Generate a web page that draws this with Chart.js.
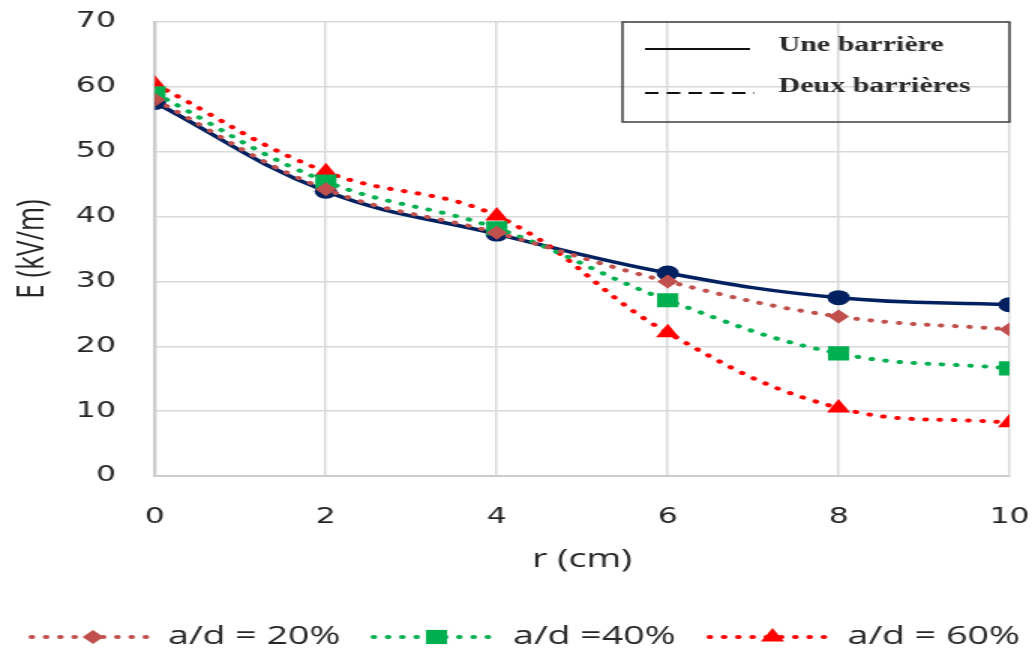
<!DOCTYPE html>
<html lang="fr">
  <head>
    <meta charset="UTF-8" />
    <title>E (kV/m) en fonction de r</title>
    <script src="https://cdn.jsdelivr.net/npm/chart.js@4.4.1/dist/chart.umd.min.js"></script>
    <style>
      html, body { margin: 0; padding: 0; background: #fff; overflow: hidden; }
      /* the original picture is stretched horizontally, so is this one */
      #wrap { width: 690px; height: 653px; transform: scaleX(1.5); transform-origin: 0 0; }
    </style>
  </head>
  <body>
    <div id="wrap"><canvas id="myChart" width="690" height="653"></canvas></div>
    <script>
      const rValues = [0, 2, 4, 6, 8, 10];
      const eUne = [57.6, 43.9, 37.3, 31.3, 27.5, 26.4];
      const e20 = [58.0, 44.2, 37.5, 30.0, 24.6, 22.6];
      const e40 = [59.0, 45.4, 38.2, 27.1, 18.9, 16.6];
      const e60 = [60.4, 46.9, 40.1, 22.1, 10.5, 8.2];
      const yTicks = [0, 10, 20, 30, 40, 50, 60, 70];
      const insetLabels = ["Une barrière", "Deux barrières"];

      const textColor = "#262626";
      const sans = "'Open Sans', 'Noto Sans', sans-serif";
      const tickFont = "'DejaVu Sans', Verdana, sans-serif";

      function points(ys) {
        return rValues.map((r, i) => ({ x: r, y: ys[i] }));
      }

      function dotted(label, color, data, style, radius) {
        return {
          label: label,
          data: points(data),
          borderColor: color,
          backgroundColor: color,
          borderWidth: 4,
          borderDash: [0.5, 9],
          borderCapStyle: "round",
          pointStyle: style,
          pointRadius: radius,
          pointHoverRadius: radius,
          pointBorderWidth: 0,
          tension: 0.4,
          showInLegend: true
        };
      }

      // inset box with the two line types + bottom legend
      const extras = {
        id: "extras",
        afterDraw(chart) {
          const ctx = chart.ctx;
          const area = chart.chartArea;
          ctx.save();

          // inset box (top right)
          const bx = 415, by = 22, bw = area.right - 415, bh = 100;
          ctx.strokeStyle = "#404040";
          ctx.lineWidth = 1.5;
          ctx.strokeRect(bx, by, bw, bh);
          ctx.strokeStyle = "#111";
          ctx.lineWidth = 2;
          ctx.beginPath();
          ctx.moveTo(430, 49);
          ctx.lineTo(500, 49);
          ctx.stroke();
          ctx.setLineDash([9, 5.5]);
          ctx.beginPath();
          ctx.moveTo(430, 93);
          ctx.lineTo(503, 93);
          ctx.stroke();
          ctx.setLineDash([]);
          ctx.fillStyle = "#2a2a2a";
          ctx.font = "bold 20px 'Liberation Serif', serif";
          ctx.textBaseline = "middle";
          ctx.textAlign = "left";
          ctx.fillText(insetLabels[0], 519, 46);
          ctx.fillText(insetLabels[1], 519, 87);

          // bottom legend
          const items = [
            { x1: 21, x2: 105, xm: 62, xt: 112 },
            { x1: 249, x2: 333, xm: 291, xt: 342 },
            { x1: 473, x2: 555, xm: 515, xt: 565 }
          ];
          const ly = 637;
          const sets = chart.data.datasets.filter(d => d.showInLegend);
          sets.forEach((ds, i) => {
            const it = items[i];
            ctx.strokeStyle = ds.borderColor;
            ctx.lineWidth = 4;
            ctx.lineCap = "round";
            ctx.setLineDash([0.5, 9]);
            ctx.beginPath();
            ctx.moveTo(it.x1, ly);
            ctx.lineTo(it.x2, ly);
            ctx.stroke();
            ctx.setLineDash([]);
            ctx.fillStyle = ds.backgroundColor;
            Chart.helpers.drawPoint(ctx, {
              pointStyle: ds.pointStyle,
              radius: ds.pointRadius,
              borderWidth: 0,
              rotation: 0
            }, it.xm, ly);
            ctx.fillStyle = textColor;
            ctx.font = "25px " + sans;
            ctx.textAlign = "left";
            ctx.textBaseline = "middle";
            ctx.fillText(ds.label, it.xt, ly);
          });
          ctx.restore();
        }
      };

      const ctx = document.getElementById("myChart").getContext("2d");
      const chart = new Chart(ctx, {
        type: "line",
        data: {
          datasets: [
            dotted("a/d = 20%", "#C0504D", e20, "rectRot", 7),
            dotted("a/d =40%", "#00B050", e40, "rect", 10),
            dotted("a/d = 60%", "#FF0000", e60, "triangle", 9),
            {
              label: insetLabels[0],
              data: points(eUne),
              borderColor: "#002060",
              backgroundColor: "#002060",
              borderWidth: 3.5,
              pointStyle: "circle",
              pointRadius: 7.5,
              pointHoverRadius: 7.5,
              pointBorderWidth: 0,
              tension: 0.4
            }
          ]
        },
        options: {
          responsive: false,
          animation: false,
          layout: { padding: { top: 22, right: 17, left: 0, bottom: 0 } },
          plugins: {
            legend: { display: false },
            tooltip: { enabled: false }
          },
          scales: {
            x: {
              type: "linear",
              min: 0,
              max: 10,
              ticks: {
                stepSize: 2,
                color: textColor,
                font: { family: tickFont, size: 21 },
                padding: 0
              },
              // invisible tick marks give the gap between axis and labels
              grid: {
                color: "#d9d9d9",
                lineWidth: 1.5,
                drawTicks: true,
                tickLength: 29,
                tickColor: "rgba(0,0,0,0)"
              },
              border: { color: "#cccccc", width: 2 },
              title: {
                display: true,
                text: "r (cm)",
                color: textColor,
                font: { family: sans, size: 25 },
                padding: { top: 0, bottom: 78 }
              },
              afterFit(scale) { scale.height = 177; }
            },
            y: {
              min: 0,
              max: 70,
              afterBuildTicks(scale) { scale.ticks = yTicks.map(v => ({ value: v })); },
              ticks: {
                color: textColor,
                font: { family: tickFont, size: 21 },
                padding: 0
              },
              grid: {
                color: "#d9d9d9",
                lineWidth: 1.5,
                drawTicks: true,
                tickLength: 26,
                tickColor: "rgba(0,0,0,0)"
              },
              border: { color: "#cccccc", width: 2 },
              title: {
                display: true,
                text: "E (kV/m)",
                color: textColor,
                font: { family: sans, size: 26 },
                padding: { top: 6, bottom: 0 }
              },
              afterFit(scale) { scale.width = 103.3; }
            }
          }
        },
        plugins: [extras]
      });
    </script>
  </body>
</html>
